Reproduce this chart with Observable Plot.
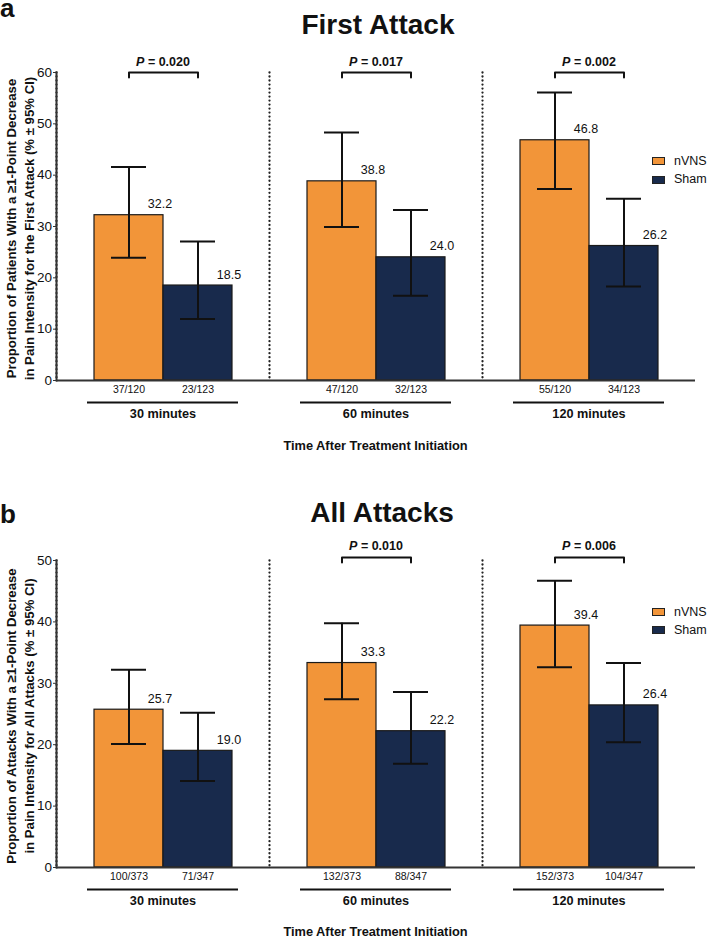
<!DOCTYPE html>
<html><head><meta charset="utf-8">
<script src="https://cdn.jsdelivr.net/npm/d3@7"></script>
<script src="https://cdn.jsdelivr.net/npm/@observablehq/plot@0.6"></script>
<style>
body{margin:0;background:#fff;font-family:"Liberation Sans",Arial,Helvetica,sans-serif;color:#111}
#fig{position:relative;width:707px;height:938px;overflow:hidden;background:#fff}
#fig svg{position:absolute;left:0}
.abs{position:absolute;white-space:nowrap;line-height:1}
.tag{font-weight:bold;font-size:26px;left:0}
.title{font-weight:bold;font-size:28px;width:400px;text-align:center}
.xlab{font-weight:bold;font-size:12.8px;width:400px;text-align:center}
.sw{position:absolute;width:11px;height:6px;border:1px solid #222}
.lt{font-size:12.5px}
</style>
</head><body>
<div id="fig"></div>
<script>
const groups = ["30 minutes", "60 minutes", "120 minutes"];
const arms = ["nVNS", "Sham"];
const armColors = ["#F29539", "#182A4C"];

// Panel a: First Attack (order: 30 nVNS, 30 Sham, 60 nVNS, 60 Sham, 120 nVNS, 120 Sham)
const firstValues = [32.2, 18.5, 38.8, 24.0, 46.8, 26.2];
const firstLower  = [23.9, 12.0, 29.9, 16.5, 37.3, 18.3];
const firstUpper  = [41.6, 27.1, 48.3, 33.2, 56.1, 35.4];
const firstCounts = ["37/120", "23/123", "47/120", "32/123", "55/120", "34/123"];
const firstPValues = ["P = 0.020", "P = 0.017", "P = 0.002"];
const firstTicks = [0, 10, 20, 30, 40, 50, 60];

// Panel b: All Attacks
const allValues = [25.7, 19.0, 33.3, 22.2, 39.4, 26.4];
const allLower  = [20.1, 14.1, 27.4, 16.9, 32.6, 20.4];
const allUpper  = [32.2, 25.2, 39.8, 28.6, 46.7, 33.3];
const allCounts = ["100/373", "71/347", "132/373", "88/347", "152/373", "104/347"];
const allPValues = [null, "P = 0.010", "P = 0.006"];
const allTicks = [0, 10, 20, 30, 40, 50];

const fig = document.getElementById("fig");

function panel(o) {
  const rows = groups.flatMap((g, i) => arms.map((a, j) => ({
    group: g, arm: a, value: o.values[i * 2 + j], lo: o.lower[i * 2 + j],
    hi: o.upper[i * 2 + j], count: o.counts[i * 2 + j]
  })));
  const pRows = groups.map((g, i) => ({group: g, text: o.pvals[i]})).filter(d => d.text);
  const plotH = o.height - o.marginTop - o.marginBottom;
  const leg = 5 * o.yMax / plotH;
  const bracket = pRows.flatMap(d => [
    {group: d.group, arm: "nVNS", y: o.bracketY - leg},
    {group: d.group, arm: "nVNS", y: o.bracketY},
    {group: d.group, arm: "Sham", y: o.bracketY},
    {group: d.group, arm: "Sham", y: o.bracketY - leg}
  ]);
  const svg = Plot.plot({
    width: 707, height: o.height, marginTop: o.marginTop, marginBottom: o.marginBottom,
    marginLeft: 55, marginRight: 11,
    style: {fontFamily: "Liberation Sans, Arial, Helvetica, sans-serif", fontSize: "13px", color: "#111", background: "transparent", overflow: "visible"},
    fx: {domain: groups, paddingInner: 0, paddingOuter: 0, axis: null, label: null},
    x: {domain: arms, paddingInner: 0, paddingOuter: 0.54, axis: null, label: null},
    y: {domain: [0, o.yMax], label: null},
    color: {domain: arms, range: armColors},
    marks: [
      Plot.frame({anchor: "left", stroke: "#222", strokeWidth: 2.3, strokeDasharray: "0.01,4", strokeLinecap: "round"}),
      Plot.barY(rows, {fx: "group", x: "arm", y: "value", fill: "arm", stroke: "#1a1a1a", strokeWidth: 1.2}),
      Plot.ruleX(rows, {fx: "group", x: "arm", y1: "lo", y2: "hi", stroke: "#111", strokeWidth: 2}),
      Plot.tickY(rows, {fx: "group", x: "arm", y: "lo", stroke: "#111", strokeWidth: 2, insetLeft: 17, insetRight: 17}),
      Plot.tickY(rows, {fx: "group", x: "arm", y: "hi", stroke: "#111", strokeWidth: 2, insetLeft: 17, insetRight: 17}),
      Plot.text(rows, {fx: "group", x: "arm", y: "value", text: d => d.value.toFixed(1), dx: 31, dy: -11, fontSize: 12.5, fill: "#111"}),
      Plot.ruleY([0], {stroke: "#333", strokeWidth: 2}),
      Plot.frame({anchor: "left", facetAnchor: "left", stroke: "#333", strokeWidth: 2}),
      Plot.axisY({ticks: o.ticks, tickSize: 3, tickPadding: 1.5, fontSize: 13.5, label: null, stroke: "#333"}),
      Plot.text(rows, {fx: "group", x: "arm", text: "count", frameAnchor: "bottom", dy: 12, fontSize: 10.5, fill: "#111"}),
      Plot.ruleY(groups, {fx: d => d, y: () => 0, dy: 22, insetLeft: 31, insetRight: 31, stroke: "#111", strokeWidth: 2}),
      Plot.text(groups, {fx: d => d, text: d => d, frameAnchor: "bottom", dy: 37, fontWeight: "bold", fontSize: 12.7, fill: "#111"}),
      Plot.line(bracket, {fx: "group", x: "arm", y: "y", z: "group", stroke: "#111", strokeWidth: 2}),
      Plot.text(pRows, {fx: "group", y: () => o.bracketY, text: "text", dy: -11, fontWeight: "bold", fontSize: 12.5, fill: "#111"}),
      Plot.text([o.yLabel], {frameAnchor: "left", facetAnchor: "left", textAnchor: "middle", lineAnchor: "middle", rotate: -90, dx: -37, dy: 2, lineHeight: 1.3, fontWeight: "bold", fontSize: 13.2, fill: "#111"})
    ]
  });
  const ns = "http://www.w3.org/2000/svg";
  for (const t of svg.querySelectorAll("text")) {
    const s = t.textContent;
    if (/^P = /.test(s) && t.children.length === 0) {
      t.textContent = "";
      const sp = document.createElementNS(ns, "tspan");
      sp.setAttribute("font-style", "italic");
      sp.textContent = "P";
      t.append(sp, s.slice(1));
    }
  }
  svg.style.top = o.top + "px";
  fig.appendChild(svg);
}

function addDiv(cls, text, left, top) {
  const d = document.createElement("div");
  d.className = "abs " + cls;
  d.textContent = text;
  d.style.left = left + "px";
  d.style.top = top + "px";
  fig.appendChild(d);
  return d;
}
function addLegend(yCenters) {
  arms.forEach((a, i) => {
    const s = document.createElement("div");
    s.className = "sw";
    s.style.left = "652px";
    s.style.top = (yCenters[i] - 4) + "px";
    s.style.background = armColors[i];
    fig.appendChild(s);
    addDiv("lt", a, 674, yCenters[i] - 6.1);
  });
}

panel({values: firstValues, lower: firstLower, upper: firstUpper, counts: firstCounts,
  pvals: firstPValues, ticks: firstTicks, yMax: 60, bracketY: 60,
  height: 470, marginTop: 72, marginBottom: 90, top: 0,
  yLabel: "Proportion of Patients With a \u22651-Point Decrease\nin Pain Intensity for the First Attack (% \u00b1 95% CI)"});

panel({values: allValues, lower: allLower, upper: allUpper, counts: allCounts,
  pvals: allPValues, ticks: allTicks, yMax: 50, bracketY: 50.5,
  height: 468, marginTop: 90, marginBottom: 71, top: 470,
  yLabel: "Proportion of Attacks With a \u22651-Point Decrease\nin Pain Intensity for All Attacks (% \u00b1 95% CI)"});

const tagA = addDiv("tag", "a", 0, 0);
tagA.style.lineHeight = "16px";
addDiv("title", "First Attack", 178, 11.3);
addDiv("xlab", "Time After Treatment Initiation", 175.5, 439.9);
addLegend([161.3, 179.5]);

addDiv("tag", "b", 0, 501);
addDiv("title", "All Attacks", 182, 499.3);
addDiv("xlab", "Time After Treatment Initiation", 175.5, 926);
addLegend([611.7, 630]);
</script>
</body></html>
